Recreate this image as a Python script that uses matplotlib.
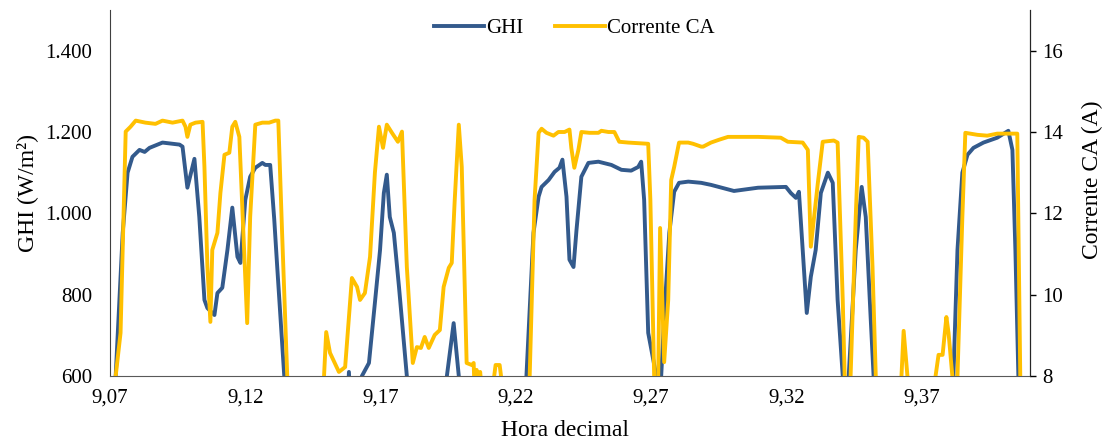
import matplotlib
matplotlib.use('Agg')
import matplotlib.pyplot as plt
from matplotlib.ticker import FuncFormatter

# GHI (W/m2) against decimal hour; values below 600 fall outside the axis
ghi_hora = [9.0721, 9.0747, 9.0765, 9.0783, 9.0809, 9.0828, 9.0846, 9.0894,
            9.0957, 9.0968, 9.0986, 9.1012, 9.1030, 9.1049, 9.1060, 9.1086,
            9.1097, 9.1115, 9.1134, 9.1152, 9.1171, 9.1182, 9.1200, 9.1218,
            9.1237, 9.1263, 9.1274, 9.1292, 9.1307, 9.1318, 9.1344, 9.1400,
            9.1500, 9.1570, 9.1583, 9.1595, 9.1615, 9.1631, 9.1657, 9.1679,
            9.1698, 9.1712, 9.1723, 9.1734, 9.1749, 9.1768, 9.1797, 9.1850,
            9.1930, 9.1945, 9.1970, 9.1989, 9.2050, 9.2150, 9.2220, 9.2239,
            9.2265, 9.2284, 9.2295, 9.2321, 9.2343, 9.2361, 9.2372, 9.2387,
            9.2398, 9.2413, 9.2424, 9.2442, 9.2468, 9.2505, 9.2553, 9.2590,
            9.2626, 9.2652, 9.2663, 9.2674, 9.2689, 9.2708, 9.2719, 9.2728,
            9.2737, 9.2748, 9.2767, 9.2785, 9.2803, 9.2837, 9.2885, 9.2921,
            9.3006, 9.3095, 9.3198, 9.3216, 9.3235, 9.3246, 9.3260, 9.3275,
            9.3290, 9.3308, 9.3327, 9.3353, 9.3371, 9.3389, 9.3408, 9.3420,
            9.3430, 9.3456, 9.3478, 9.3493, 9.3511, 9.3522, 9.3600, 9.3700,
            9.3800, 9.3817, 9.3832, 9.3850, 9.3869, 9.3891, 9.3928, 9.3979,
            9.4020, 9.4035, 9.4046, 9.4057, 9.4065]
ghi_wm2 = [600, 952, 1100, 1139, 1156, 1151, 1161, 1174,
           1169, 1164, 1063, 1134, 991, 787, 767, 750,
           804, 817, 910, 1014, 893, 878, 1033, 1090,
           1112, 1124, 1119, 1119, 985, 868, 600, 300,
           300, 400, 610, 400, 400, 600, 632, 780,
           910, 1050, 1095, 991, 952, 819, 600, 300,
           400, 600, 730, 600, 300, 300, 400, 600,
           952, 1041, 1065, 1082, 1102, 1112, 1132, 1041,
           886, 868, 959, 1090, 1124, 1127, 1119, 1107,
           1105, 1114, 1127, 1033, 706, 639, 600, 500,
           600, 745, 952, 1053, 1075, 1078, 1075, 1070,
           1055, 1063, 1065, 1050, 1038, 1053, 910, 755,
           844, 910, 1050, 1100, 1075, 787, 600, 400,
           600, 910, 1065, 991, 745, 600, 300, 300,
           400, 600, 910, 1100, 1144, 1161, 1174, 1186,
           1203, 1156, 910, 600, 400]

# Corrente CA (A) against decimal hour; values below 8 fall outside the axis
ca_hora = [9.0721, 9.0739, 9.0758, 9.0776, 9.0795, 9.0831, 9.0868, 9.0894,
           9.0931, 9.0968, 9.0979, 9.0986, 9.0997, 9.1016, 9.1042, 9.1049,
           9.1060, 9.1071, 9.1078, 9.1097, 9.1108, 9.1123, 9.1141, 9.1152,
           9.1163, 9.1178, 9.1207, 9.1218, 9.1237, 9.1263, 9.1288, 9.1311,
           9.1322, 9.1336, 9.1355, 9.1400, 9.1480, 9.1491, 9.1499, 9.1513,
           9.1546, 9.1569, 9.1594, 9.1613, 9.1624, 9.1642, 9.1661, 9.1679,
           9.1694, 9.1709, 9.1723, 9.1742, 9.1764, 9.1779, 9.1797, 9.1819,
           9.1834, 9.1849, 9.1863, 9.1878, 9.1900, 9.1919, 9.1933, 9.1952,
           9.1963, 9.1974, 9.1989, 9.2000, 9.2018, 9.2037, 9.2044, 9.2048,
           9.2055, 9.2062, 9.2068, 9.2076, 9.2100, 9.2118, 9.2125, 9.2140,
           9.2147, 9.2200, 9.2251, 9.2269, 9.2284, 9.2295, 9.2313, 9.2339,
           9.2357, 9.2380, 9.2398, 9.2405, 9.2416, 9.2431, 9.2442, 9.2472,
           9.2505, 9.2516, 9.2542, 9.2564, 9.2582, 9.2615, 9.2689, 9.2697,
           9.2711, 9.2718, 9.2726, 9.2733, 9.2748, 9.2763, 9.2774, 9.2785,
           9.2803, 9.2837, 9.2855, 9.2885, 9.2892, 9.2921, 9.2951, 9.2984,
           9.3021, 9.3095, 9.3179, 9.3205, 9.3260, 9.3279, 9.3290, 9.3316,
           9.3334, 9.3375, 9.3389, 9.3408, 9.3415, 9.3425, 9.3437, 9.3456,
           9.3467, 9.3485, 9.3500, 9.3518, 9.3530, 9.3580, 9.3625, 9.3633,
           9.3647, 9.3700, 9.3751, 9.3762, 9.3777, 9.3791, 9.3799, 9.3813,
           9.3818, 9.3832, 9.3850, 9.3861, 9.3906, 9.3942, 9.3979, 9.4053,
           9.4064, 9.4070]
ca_amp = [8.0, 9.06, 14.01, 14.13, 14.28, 14.23, 14.20, 14.28,
          14.23, 14.28, 14.13, 13.88, 14.18, 14.23, 14.25, 13.14,
          10.68, 9.33, 11.10, 11.52, 12.50, 13.44, 13.49, 14.13,
          14.25, 13.88, 9.30, 11.91, 14.18, 14.23, 14.23, 14.28,
          14.28, 11.52, 8.0, 6.0, 6.0, 8.0, 9.08, 8.57,
          8.10, 8.22, 10.41, 10.19, 9.87, 10.04, 10.93, 13.0,
          14.13, 13.61, 14.18, 13.98, 13.76, 14.01, 10.68, 8.32,
          8.71, 8.69, 8.96, 8.69, 9.01, 9.13, 10.19, 10.66,
          10.78, 12.33, 14.18, 13.14, 8.32, 8.27, 8.32, 7.5,
          8.15, 7.8, 8.1, 7.5, 6.0, 7.9, 8.27, 8.27,
          7.9, 6.0, 8.0, 12.33, 13.98, 14.08, 13.98, 13.91,
          14.0, 14.0, 14.06, 13.6, 13.12, 13.56, 14.0, 13.98,
          13.98, 14.03, 14.0, 14.0, 13.76, 13.74, 13.71, 12.33,
          8.0, 7.0, 8.0, 11.64, 8.34, 9.87, 12.82, 13.14,
          13.74, 13.74, 13.71, 13.64, 13.64, 13.74, 13.81, 13.88,
          13.88, 13.88, 13.86, 13.76, 13.74, 13.56, 11.18, 12.75,
          13.76, 13.79, 13.74, 9.87, 8.0, 6.5, 8.0, 11.91,
          13.88, 13.86, 13.76, 10.68, 8.0, 6.0, 8.0, 9.11,
          8.0, 6.0, 8.0, 8.52, 8.52, 9.45, 9.06, 8.0,
          7.5, 8.0, 11.91, 13.98, 13.93, 13.91, 13.96, 13.96,
          8.0, 6.0]

x_ticks = [9.07, 9.12, 9.17, 9.22, 9.27, 9.32, 9.37]
ghi_ticks = [600, 800, 1000, 1200, 1400]
ca_ticks = [8, 10, 12, 14, 16]

BLUE = '#335A8C'
GOLD = '#FFC000'
plt.rcParams['font.family'] = ['Liberation Serif', 'DejaVu Serif']

fig = plt.figure(figsize=(11.05, 4.43), dpi=100)
ax = fig.add_axes([110 / 1105, 1 - 376 / 443, 920 / 1105, 366 / 443])
ax2 = ax.twinx()

line_ghi, = ax.plot(ghi_hora, ghi_wm2, color=BLUE, lw=2.8,
                    solid_joinstyle='round', label='GHI')
line_ca, = ax2.plot(ca_hora, ca_amp, color=GOLD, lw=2.8,
                    solid_joinstyle='round', label='Corrente CA')

ax.set_xlim(9.0705, 9.41)
ax.set_ylim(600, 1500)
ax2.set_ylim(8, 17)

ax.set_xticks(x_ticks)
ax.xaxis.set_major_formatter(FuncFormatter(lambda v, p: f'{v:.2f}'.replace('.', ',')))
ax.set_yticks(ghi_ticks)
ax.yaxis.set_major_formatter(FuncFormatter(lambda v, p: f'{int(v):,}'.replace(',', '.')))
ax2.set_yticks(ca_ticks)

ax.tick_params(axis='x', length=0, pad=9, labelsize=15)
ax.tick_params(axis='y', length=0, pad=13, labelsize=15)
ax2.tick_params(axis='y', length=4, width=1, pad=5, labelsize=15, direction='out')

for a in (ax, ax2):
    a.spines['top'].set_visible(False)
ax.spines['left'].set_color('#404040')
ax.spines['bottom'].set_color('#595959')
ax2.spines['left'].set_visible(False)
ax2.spines['bottom'].set_visible(False)
ax2.spines['right'].set_color('#262626')

ax.set_xlabel('Hora decimal', fontsize=17)
ax.xaxis.set_label_coords(0.495, -0.12)
ax.set_ylabel('GHI (W/m²)', fontsize=17, labelpad=5)
ax2.set_ylabel('Corrente CA (A)', fontsize=17)
ax2.yaxis.set_label_coords(1.056, 0.535)

ax2.legend(handles=[line_ghi, line_ca], loc='upper center',
           bbox_to_anchor=(0.505, 1.0), ncol=2, frameon=False, fontsize=15,
           handlelength=2.4, columnspacing=1.5, handletextpad=0.1,
           borderaxespad=0.0)

fig.savefig('out.png', dpi=100)
